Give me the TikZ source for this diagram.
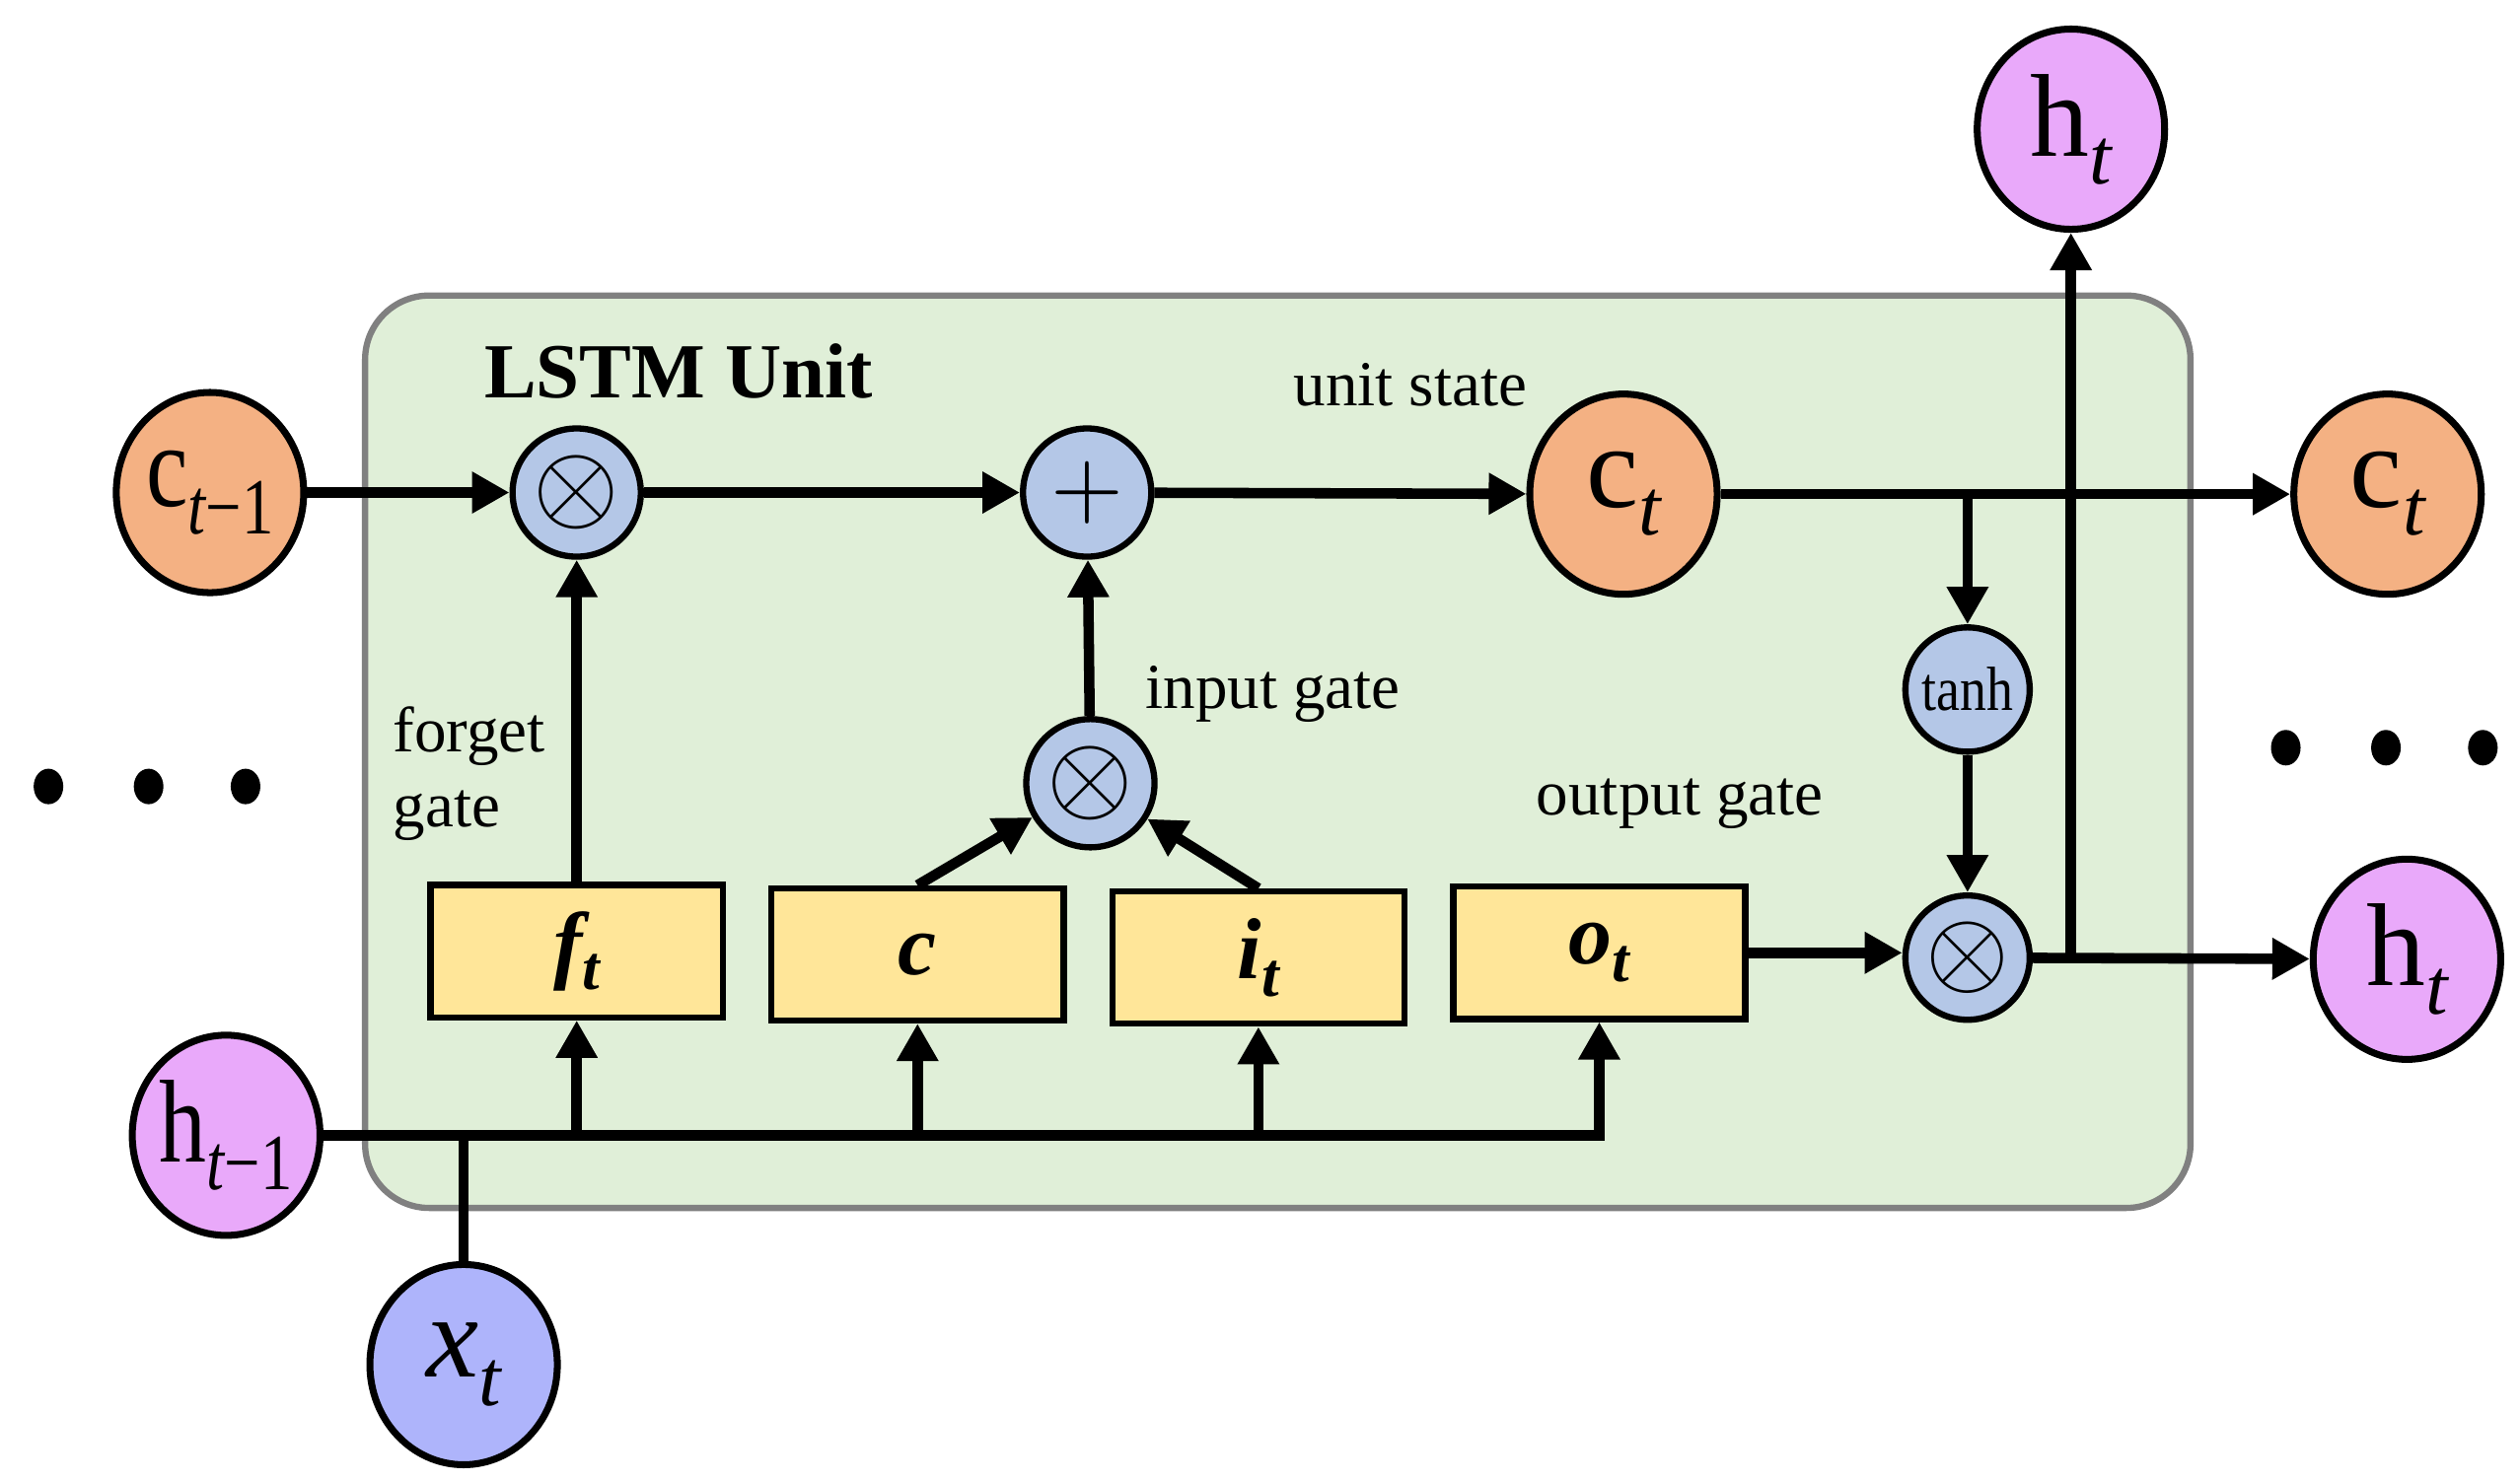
\documentclass[tikz,border=0pt]{standalone}
\usepackage{fontspec}
\setmainfont{Liberation Serif}
\usetikzlibrary{shapes.geometric,arrows.meta}
\definecolor{corange}{HTML}{F4B183}
\definecolor{cpink}{HTML}{E9A9FA}
\definecolor{cxblue}{HTML}{AEB4FB}
\definecolor{copblue}{HTML}{B4C7E7}
\definecolor{cyellow}{HTML}{FFE699}
\definecolor{cgreen}{HTML}{E0EFD8}
\definecolor{cgray}{HTML}{808080}
\newcommand\lsub[1]{\raisebox{-8pt}{\fontsize{23}{23}\selectfont\itshape #1}}
\newcommand\bsub[1]{\raisebox{-5pt}{\fontsize{18}{18}\selectfont\bfseries\itshape #1}}
\newcommand\bigtxt{\fontsize{34}{34}\selectfont}
\begin{document}
\begin{tikzpicture}[x=0.01638cm,y=-0.01638cm,
  statenode/.style={ellipse,draw,line width=2pt,minimum width=1.9cm,minimum height=2.03cm,inner sep=0pt,font=\bigtxt},
  opnode/.style={circle,draw,line width=1.8pt,fill=copblue,minimum size=1.3cm,inner sep=0pt},
  gatebox/.style={rectangle,draw,line width=1.8pt,fill=cyellow,minimum width=2.96cm,minimum height=1.34cm,inner sep=0pt,font=\fontsize{25}{25}\selectfont\bfseries\itshape},
  lbl/.style={font=\fontsize{18.5}{21.5}\selectfont,inner sep=0pt},
  dotnode/.style={ellipse,fill=black,minimum width=0.3cm,minimum height=0.36cm,inner sep=0pt},
  conn/.style={line width=3pt},
  arr/.style={line width=3pt,-{Triangle[length=0.38cm,width=0.40cm]}}
]
\useasboundingbox (0,0) rectangle (1560,916.5);
% unit background
\draw[line width=1.8pt,draw=cgray,fill=cgreen,rounded corners=0.65cm] (226,183) rectangle (1356,748);
\node[lbl,font=\fontsize{22.5}{22.5}\selectfont\bfseries] (title) at (420,230) {LSTM Unit};
\node[lbl] (lunit) at (873,238) {unit state};
\node[lbl,align=left,anchor=west] (lforget) at (243,479) {forget\\gate};
\node[lbl] (linput) at (788,430) {input gate};
\node[lbl] (loutput) at (1040,498) {output gate};
% state nodes
\node[statenode,fill=corange] (cprev) at (130,305) {\scalebox{0.8}[1]{c\lsub{t\upshape −1}}};
\node[statenode,fill=corange] (ct) at (1005,306) {c\lsub{t}};
\node[statenode,fill=corange] (ctout) at (1478,306) {c\lsub{t}};
\node[statenode,fill=cpink] (htop) at (1282,80) {h\lsub{t}};
\node[statenode,fill=cpink] (hout) at (1490,594) {h\lsub{t}};
\node[statenode,fill=cpink] (hprev) at (140,703) {\scalebox{0.8}[1]{h\lsub{t\upshape −1}}};
\node[statenode,fill=cxblue] (xt) at (287,845) {\itshape x\lsub{t}};
% operators
\node[opnode] (mf) at (357,305) {\scalebox{3.2}{$\otimes$}};
\node[opnode] (add) at (673,305) {\scalebox{2.7}{$+$}};
\node[opnode] (mi) at (675,485) {\scalebox{3.2}{$\otimes$}};
\node[opnode,minimum size=1.26cm] (tanh) at (1218,427) {\scalebox{0.85}[1]{\fontsize{18}{18}\selectfont tanh}};
\node[opnode,minimum size=1.26cm] (mo) at (1218,593) {\scalebox{3.1}{$\otimes$}};
% gates
\node[gatebox] (ft) at (357,589) {f\bsub{t}};
\node[gatebox] (cb) at (568,591) {c};
\node[gatebox] (itb) at (779,593) {i\bsub{t}};
\node[gatebox] (ot) at (990,590) {o\bsub{t}};
% dots
\node[dotnode] (dl1) at (30,487) {};
\node[dotnode] (dl2) at (92,487) {};
\node[dotnode] (dl3) at (152,487) {};
\node[dotnode] (dr1) at (1415,463) {};
\node[dotnode] (dr2) at (1477,463) {};
\node[dotnode] (dr3) at (1537,463) {};
% connectors
\draw[arr] (cprev) -- (mf);
\draw[arr] (mf) -- (add);
\draw[arr] (add) -- (ct);
\draw[arr] (ct) -- (ctout);
\draw[arr] (tanh |- ct) -- (tanh);
\draw[arr] (tanh) -- (mo);
\draw[arr] (ot.east) -- (ot.east -| mo.west);
\draw[arr] (mo) -- (hout);
\coordinate (hj) at (htop |- mo);
\draw[arr] (hj) -- (htop);
\draw[arr] (ft) -- (mf);
\draw[arr] (mi) -- (add);
\draw[arr] (cb.north) -- (mi);
\draw[arr] (itb.north) -- (mi);
\draw[arr] (hprev.east) -- (ot.south |- hprev.east) -- (ot.south);
\draw[arr] (ft.south |- hprev.east) -- (ft.south);
\draw[arr] (cb.south |- hprev.east) -- (cb.south);
\draw[arr] (itb.south |- hprev.east) -- (itb.south);
\draw[conn] (xt) -- (xt |- hprev.east);
\end{tikzpicture}
\end{document}
